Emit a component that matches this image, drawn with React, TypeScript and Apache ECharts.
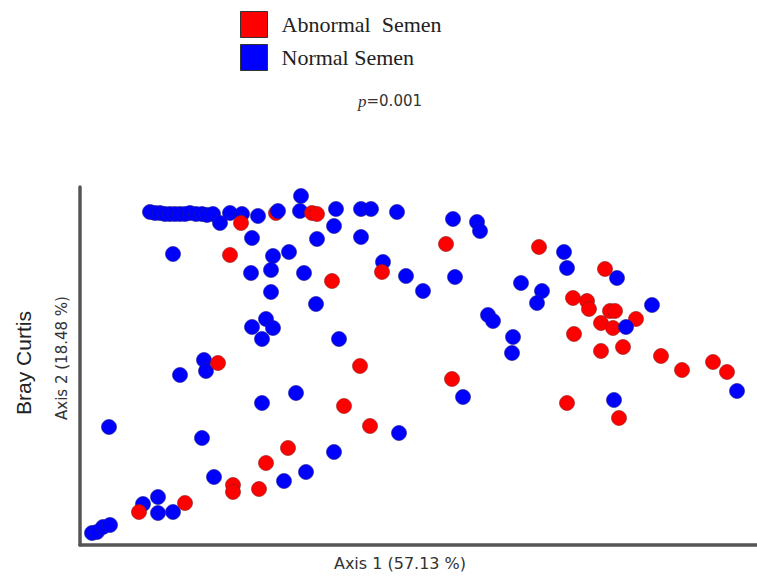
import React, { useEffect, useRef } from "react";
import * as echarts from "echarts";

// PCoA coordinates (arbitrary units: x = Axis 1, y = Axis 2)
const normalSemen: number[][] = [
  [71, 333], [76, 332], [81, 332], [86, 331], [91, 331], [96, 331], [101, 331], [106, 331],
  [111, 332], [117, 331], [123, 331], [128, 330], [134, 331], [141, 322], [151, 332], [163, 331],
  [179, 329], [221, 334], [222, 349], [257, 336], [255, 319], [282, 336], [292, 336], [318, 333],
  [173, 307], [238, 306], [282, 308], [94, 291], [194, 289], [210, 293], [304, 283], [327, 269],
  [344, 254], [172, 272], [192, 275], [225, 272], [192, 253], [237, 241], [187, 226], [173, 218],
  [194, 217], [183, 206], [260, 206], [125, 185], [127, 174], [101, 170], [183, 142], [217, 152],
  [320, 112], [30, 118], [123, 107], [255, 93], [227, 73], [205, 64], [135, 68], [79, 48],
  [64, 41], [79, 32], [94, 33], [13, 12], [18, 13], [24, 18], [31, 20],
  [374, 326], [398, 323], [401, 314], [485, 293], [488, 277], [538, 267], [376, 268], [442, 262],
  [463, 254], [458, 242], [573, 240], [658, 154], [409, 230], [414, 224], [434, 208], [433, 192],
  [384, 148], [535, 145],
];
// Normal samples drawn above the abnormal ones where they overlap in the original
const normalSemenTop: number[][] = [[547, 218], [199, 334]];

const abnormalSemen: number[][] = [
  [162, 322], [197, 332], [233, 332], [238, 331], [151, 290], [303, 273], [253, 264],
  [367, 301], [460, 298], [526, 276], [494, 247], [508, 244], [510, 236], [531, 234], [536, 234],
  [557, 226], [522, 222], [534, 217], [495, 211], [522, 194], [544, 198], [582, 189], [603, 175],
  [634, 183], [648, 173], [373, 166], [488, 142], [540, 127], [139, 182], [281, 179], [265, 139],
  [291, 119], [209, 97], [187, 82], [154, 60], [154, 53], [180, 56], [106, 42], [60, 33],
];

const groupNames = ["Abnormal  Semen", "Normal Semen"];
const axis1Title = "Axis 1 (57.13 %)";
const axis2Title = "Axis 2 (18.48 %)";
const metricTitle = "Bray Curtis";
const pValue = "0.001";

export default function App() {
  const ref = useRef<HTMLDivElement>(null);
  useEffect(() => {
    if (!ref.current) return;
    const chart = echarts.init(ref.current, null, { renderer: "svg" });
    const blueStyle = { color: "#0000ff", borderColor: "#1c1c8a", borderWidth: 0.6, opacity: 1 };
    const redStyle = { color: "#ff0000", borderColor: "#8a1c1c", borderWidth: 0.6, opacity: 1 };
    chart.setOption({
      animation: false,
      backgroundColor: "#ffffff",
      grid: { left: 80, right: 0, top: 187, bottom: 31, containLabel: false },
      xAxis: {
        type: "value",
        min: 1,
        max: 678,
        axisLine: { show: true, onZero: false, lineStyle: { color: "#555555", width: 3.5 } },
        axisTick: { show: false },
        axisLabel: { show: false },
        splitLine: { show: false },
      },
      yAxis: {
        type: "value",
        min: 0,
        max: 358,
        axisLine: { show: true, onZero: false, lineStyle: { color: "#555555", width: 3.5 } },
        axisTick: { show: false },
        axisLabel: { show: false },
        splitLine: { show: false },
      },
      legend: {
        data: groupNames,
        orient: "vertical",
        left: 235,
        top: 6,
        itemWidth: 27,
        itemHeight: 26,
        itemGap: 6,
        icon: "rect",
        itemStyle: { borderColor: "#333333", borderWidth: 1, opacity: 1 },
        textStyle: {
          fontFamily: "Liberation Serif",
          fontSize: 22,
          color: "#222222",
          padding: [0, 0, 0, 9],
        },
        selectedMode: false,
      },
      series: [
        {
          name: groupNames[1],
          type: "scatter",
          data: normalSemen,
          symbolSize: 15,
          itemStyle: blueStyle,
        },
        {
          name: groupNames[0],
          type: "scatter",
          data: abnormalSemen,
          symbolSize: 15,
          itemStyle: redStyle,
        },
        {
          name: groupNames[1],
          type: "scatter",
          data: normalSemenTop,
          symbolSize: 15,
          itemStyle: blueStyle,
        },
      ],
      graphic: [
        {
          type: "text",
          x: 390,
          y: 101,
          style: {
            text: "{i|p}{n|=" + pValue + "}",
            textAlign: "center",
            textVerticalAlign: "middle",
            rich: {
              i: { fontFamily: "Liberation Serif", fontStyle: "italic", fontSize: 17, fill: "#333" },
              n: { fontFamily: "DejaVu Sans", fontSize: 15, fill: "#333" },
            },
          },
        },
        {
          type: "text",
          x: 400,
          y: 563,
          style: {
            text: axis1Title,
            textAlign: "center",
            textVerticalAlign: "middle",
            fontFamily: "DejaVu Sans",
            fontSize: 16,
            fill: "#333",
          },
        },
        {
          type: "text",
          x: 62,
          y: 358,
          rotation: Math.PI / 2,
          style: {
            text: axis2Title,
            textAlign: "center",
            textVerticalAlign: "middle",
            fontFamily: "DejaVu Sans",
            fontSize: 15,
            fill: "#333",
          },
        },
        {
          type: "text",
          x: 23,
          y: 363,
          rotation: Math.PI / 2,
          style: {
            text: metricTitle,
            textAlign: "center",
            textVerticalAlign: "middle",
            fontFamily: "Liberation Sans",
            fontSize: 21,
            fill: "#222",
          },
        },
      ],
    });
    return () => chart.dispose();
  }, []);
  return (
    <div
      ref={ref}
      style={{ position: "fixed", left: 0, top: 0, width: 757, height: 576, background: "#fff" }}
    />
  );
}
